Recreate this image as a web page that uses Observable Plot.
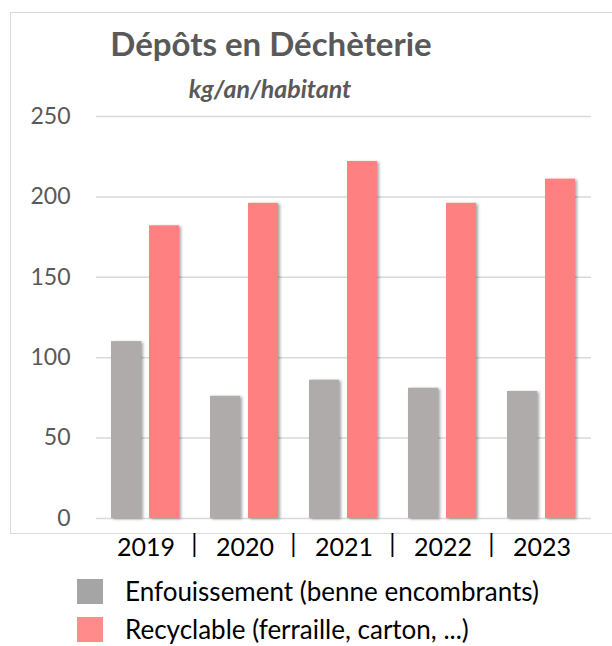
<!DOCTYPE html>
<html>
<head>
<meta charset="utf-8">
<script src="https://cdn.jsdelivr.net/npm/d3@7"></script>
<script src="https://cdn.jsdelivr.net/npm/@observablehq/plot@0.6"></script>
<style>
  html, body { margin: 0; padding: 0; background: #fff; overflow: hidden; width: 612px; height: 646px; }
  body { position: relative; font-family: Lato, "Open Sans", sans-serif; }
  #frame { position: absolute; left: 10px; top: 12px; width: 640px; height: 522px; border: 1.5px solid #d9d9d9; box-sizing: border-box; }
  #title { position: absolute; left: 0; width: 542px; top: 27px; text-align: center; font-size: 33px; font-weight: 700; color: #595959; line-height: 1; }
  #subtitle { position: absolute; left: 0; width: 540px; top: 76px; text-align: center; font-size: 25px; font-weight: 700; font-style: italic; color: #595959; line-height: 1; }
  #chart { position: absolute; left: 0; top: 100px; }
  #chart svg g[aria-label="bar"] rect { filter: drop-shadow(2px 1px 1.5px rgba(0,0,0,0.35)); }
  #legend { position: absolute; left: 77px; top: 572px; }
  .item { display: flex; align-items: center; height: 38px; font-size: 26px; color: #000; line-height: 1; }
  .sw { width: 26px; height: 25px; margin-right: 22px; }
</style>
</head>
<body>
<div id="frame"></div>
<div id="title">Dépôts en Déchèterie</div>
<div id="subtitle">kg/an/habitant</div>
<div id="chart"></div>
<div id="legend"></div>
<script>
const years = ["2019", "2020", "2021", "2022", "2023"];
const enfouissement = [110, 76, 86, 81, 79];
const recyclable = [182, 196, 222, 196, 211];
const seriesNames = ["Enfouissement (benne encombrants)", "Recyclable (ferraille, carton, ...)"];
const seriesColors = ["#AFABAB", "#FF8080"];
const legendColors = ["#A5A5A5", "#FF8B8B"];
const yTicks = [0, 50, 100, 150, 200, 250];
const separators = years.slice(0, 4);

const data = years.flatMap((year, i) => [
  {year, series: seriesNames[0], value: enfouissement[i]},
  {year, series: seriesNames[1], value: recyclable[i]}
]);

const chart = Plot.plot({
  width: 612,
  height: 470,
  marginLeft: 94,
  marginRight: 19,
  marginTop: 16,
  marginBottom: 52,
  style: {fontFamily: "Lato, 'Open Sans', sans-serif", background: "transparent"},
  fx: {domain: years, padding: 0, label: null},
  x: {domain: seriesNames, paddingInner: 0.205, paddingOuter: 0.385, axis: null},
  y: {domain: [0, 250], label: null},
  color: {domain: seriesNames, range: seriesColors},
  marks: [
    Plot.gridY(yTicks, {stroke: "#d9d9d9", strokeOpacity: 1, strokeWidth: 1.5}),
    Plot.axisY(yTicks, {tickSize: 0, tickPadding: 26, fontSize: 23, fill: "#595959", label: null}),
    Plot.barY(data, {fx: "year", x: "series", y: "value", fill: "series"}),
    Plot.axisFx({anchor: "bottom", tickSize: 0, tickPadding: 20, fontSize: 25, fill: "#000", label: null}),
    Plot.text(separators, {fx: d => d, text: () => "|", frameAnchor: "bottom-right", dx: 2, dy: 34, fontSize: 25, fill: "#000"})
  ]
});
document.getElementById("chart").appendChild(chart);

const legend = document.getElementById("legend");
seriesNames.forEach((name, i) => {
  const item = document.createElement("div");
  item.className = "item";
  const sw = document.createElement("div");
  sw.className = "sw";
  sw.style.background = legendColors[i];
  const label = document.createElement("span");
  label.textContent = name;
  item.appendChild(sw);
  item.appendChild(label);
  legend.appendChild(item);
});
</script>
</body>
</html>
